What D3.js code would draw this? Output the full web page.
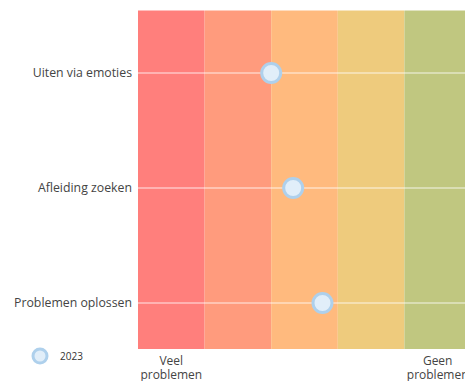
<!DOCTYPE html>
<html><head><meta charset="utf-8">
<script src="https://cdn.jsdelivr.net/npm/d3@7"></script>
<style>body{margin:0;background:#fff;} svg{display:block;font-family:"Open Sans",sans-serif;}</style>
</head><body><svg id="c" width="465" height="381"></svg>
<script>
const categories = ["Uiten via emoties", "Afleiding zoeken", "Problemen oplossen"];
const values2023 = [2.0, 2.33, 2.77];
const bandColors = ["#ff7f7c", "#ff9b7d", "#ffba7e", "#eecb7d", "#c0c780"];
const bandIndex = [0, 1, 2, 3, 4];
const axisLabels = [["Veel", "problemen"], ["Geen", "problemen"]];
const axisLabelPos = [0.5, 4.5];
const seriesName = "2023";

(function() {
const svg = d3.select("#c");
const pl = 138, pr = 471, pt = 10, pb = 349;
const x = d3.scaleLinear().domain([0, 5]).range([pl, pr]);
const y = d3.scalePoint().domain(categories).range([73, 303]);

svg.selectAll("rect.band").data(bandIndex).join("rect")
  .attr("x", d => x(d)).attr("y", pt)
  .attr("width", d => x(d + 1) - x(d)).attr("height", pb - pt)
  .attr("fill", (d, i) => bandColors[i]);

svg.append("line").attr("x1", pl).attr("x2", pr).attr("y1", pt + 0.5).attr("y2", pt + 0.5)
  .attr("stroke", "#ffffff").attr("stroke-opacity", 0.5);

svg.selectAll("line.row").data(categories).join("line")
  .attr("x1", pl).attr("x2", pr)
  .attr("y1", d => y(d)).attr("y2", d => y(d))
  .attr("stroke", "#ffffff").attr("stroke-opacity", 0.55).attr("stroke-width", 1.5);

svg.selectAll("text.cat").data(categories).join("text")
  .attr("x", 132).attr("y", d => y(d)).attr("dy", "0.35em")
  .attr("text-anchor", "end").attr("font-size", 12.3).attr("fill", "#444")
  .text(d => d);

svg.selectAll("circle.pt").data(values2023).join("circle")
  .attr("cx", d => x(d)).attr("cy", (d, i) => y(categories[i]))
  .attr("r", 9.5).attr("fill", "#e1eef9").attr("stroke", "#aed0ec").attr("stroke-width", 3);

const al = svg.selectAll("text.ax").data(axisLabels).join("text")
  .attr("text-anchor", "middle").attr("font-size", 12).attr("fill", "#444");
al.each(function(d, i) {
  const t = d3.select(this);
  d.forEach((s, j) => t.append("tspan").attr("x", x(axisLabelPos[i])).attr("y", 365 + j * 13.5).text(s));
});

svg.append("circle").attr("cx", 40).attr("cy", 356).attr("r", 7)
  .attr("fill", "#e1eef9").attr("stroke", "#aed0ec").attr("stroke-width", 3);
svg.append("text").attr("x", 60).attr("y", 356).attr("dy", "0.35em")
  .attr("font-size", 10).attr("fill", "#333").text(seriesName);
})();
</script></body></html>
